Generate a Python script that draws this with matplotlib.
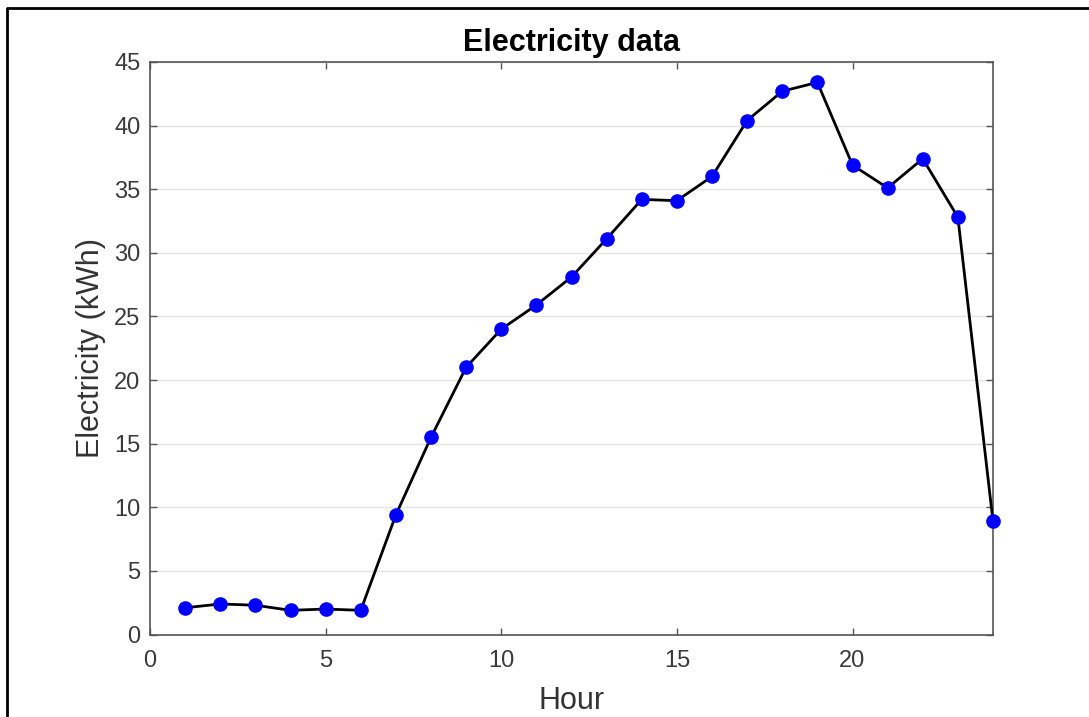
import matplotlib
matplotlib.use('Agg')
import matplotlib.pyplot as plt
from matplotlib.lines import Line2D

# hourly electricity use
hours = list(range(1, 25))
kwh = [2.1, 2.4, 2.3, 1.9, 2.0, 1.9, 9.4, 15.5, 21.0, 24.0, 25.9, 28.1,
       31.1, 34.2, 34.1, 36.0, 40.4, 42.7, 43.4, 36.9, 35.1, 37.4, 32.8, 8.9]
xticks = [0, 5, 10, 15, 20]
yticks = [0, 5, 10, 15, 20, 25, 30, 35, 40, 45]

plt.rcParams['font.family'] = ['Liberation Sans', 'DejaVu Sans']

fig = plt.figure(figsize=(10.89, 7.17), dpi=100)
ax = fig.add_axes([150 / 1089, 1 - 634.5 / 717, (993 - 150) / 1089, (634.5 - 62) / 717])

ax.plot(hours, kwh, color='black', linewidth=2.0, marker='o', markersize=9.5,
        markerfacecolor='#0000ff', markeredgecolor='#0000ff', zorder=3, clip_on=False)

ax.set_xlim(0, 24)
ax.set_ylim(0, 45)
ax.set_xticks(xticks)
ax.set_yticks(yticks)
ax.grid(axis='y', color='#e3e3e3', linewidth=1)
ax.set_axisbelow(True)

for s in ax.spines.values():
    s.set_color('#555555')
    s.set_linewidth(1.2)
ax.tick_params(direction='in', top=True, right=True, length=5, width=1,
               color='#555555', labelcolor='#3a3a3a', labelsize=17)
ax.tick_params(axis='x', pad=11)
ax.tick_params(axis='y', pad=7)

ax.set_title('Electricity data', fontsize=22, fontweight='bold', pad=8)
ax.set_xlabel('Hour', fontsize=22, color='#333333', labelpad=10)
ax.set_ylabel('Electricity (kWh)', fontsize=22, color='#333333', labelpad=6)

# black frame on the top and left edge of the screenshot
fig.add_artist(Line2D([7 / 1089, 7 / 1089, 1], [0, 1 - 8 / 717, 1 - 8 / 717],
                      transform=fig.transFigure, color='black', linewidth=2))

fig.savefig('out.png', dpi=100)
plt.close('all')
